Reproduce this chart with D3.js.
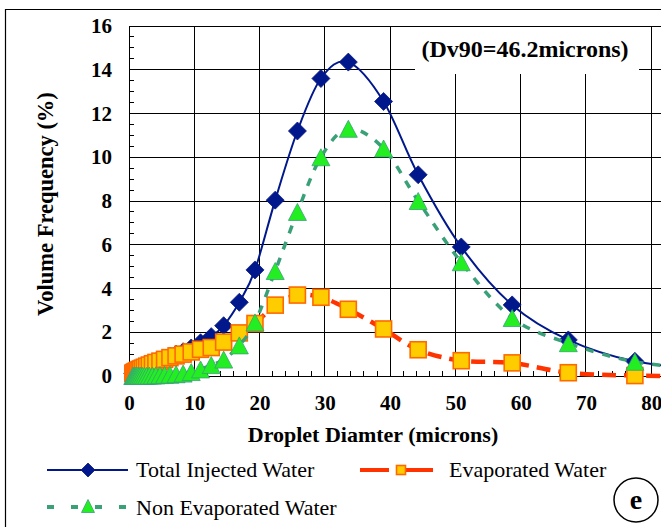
<!DOCTYPE html>
<html>
<head>
<meta charset="utf-8">
<script src="https://cdn.jsdelivr.net/npm/d3@7/dist/d3.min.js"></script>
<style>
  html, body { margin: 0; padding: 0; background: #fff; }
  svg { display: block; }
  text { font-family: "Liberation Serif", "Times New Roman", serif; }
</style>
</head>
<body>
<svg id="chart" width="661" height="527"></svg>
<script>
// Droplet size classes (microns)
const diameters = [0.58, 0.67, 0.77, 0.89, 1.02, 1.17, 1.35, 1.55, 1.78, 2.05, 2.36, 2.71,
  3.12, 3.59, 4.12, 4.74, 5.45, 6.27, 7.21, 8.29, 9.53, 10.96, 12.6, 14.5, 16.9, 19.3,
  22.4, 25.8, 29.4, 33.6, 39.0, 44.3, 50.9, 58.7, 67.3, 77.5, 89.1];

// Volume frequency (%) per size class
const totalInjected = [0.12, 0.14, 0.16, 0.18, 0.21, 0.24, 0.27, 0.30, 0.33, 0.37, 0.41, 0.46,
  0.52, 0.58, 0.65, 0.72, 0.81, 0.90, 1.00, 1.11, 1.28, 1.52, 1.80, 2.30, 3.37, 4.85,
  8.04, 11.2, 13.6, 14.35, 12.55, 9.2, 5.9, 3.25, 1.65, 0.67, 0.30];

const evaporated = [0.12, 0.14, 0.16, 0.18, 0.20, 0.23, 0.26, 0.29, 0.32, 0.36, 0.40, 0.45,
  0.50, 0.56, 0.62, 0.68, 0.76, 0.84, 0.92, 1.00, 1.10, 1.22, 1.30, 1.55, 1.97, 2.40,
  3.24, 3.70, 3.60, 3.05, 2.15, 1.20, 0.70, 0.60, 0.15, 0.02, 0.00];

const nonEvaporated = [0.00, 0.00, 0.00, 0.00, 0.01, 0.01, 0.01, 0.01, 0.01, 0.01, 0.01, 0.01,
  0.02, 0.02, 0.03, 0.04, 0.05, 0.06, 0.08, 0.11, 0.18, 0.30, 0.50, 0.75, 1.40, 2.45,
  4.80, 7.50, 10.0, 11.3, 10.4, 8.0, 5.2, 2.65, 1.50, 0.65, 0.30];

const xTicks = [0, 10, 20, 30, 40, 50, 60, 70, 80];
const yTicks = [0, 2, 4, 6, 8, 10, 12, 14, 16];

const svg = d3.select("#chart");

const x = d3.scaleLinear().domain([0, 81.5]).range([129, 661]);
const y = d3.scaleLinear().domain([0, 16]).range([376, 26]);

// outer frame
svg.append("path")
  .attr("d", "M5.5,540 V9.5 H670")
  .attr("fill", "none").attr("stroke", "#000").attr("stroke-width", 1.2);

// grid
const grid = svg.append("g").attr("stroke", "#000").attr("stroke-width", 1).attr("shape-rendering", "crispEdges");
yTicks.forEach(v => {
  grid.append("line").attr("x1", x(0)).attr("x2", 661).attr("y1", y(v)).attr("y2", y(v));
});
xTicks.forEach(v => {
  grid.append("line").attr("x1", x(v)).attr("x2", x(v)).attr("y1", y(0)).attr("y2", y(16));
});

// minor ticks (inside)
const minor = svg.append("g").attr("stroke", "#000").attr("stroke-width", 1).attr("shape-rendering", "crispEdges");
d3.range(0, 16.01, 0.5).forEach(v => {
  minor.append("line").attr("x1", x(0)).attr("x2", x(0) + 5).attr("y1", y(v)).attr("y2", y(v));
});
d3.range(0, 81.5, 2).forEach(v => {
  minor.append("line").attr("x1", x(v)).attr("x2", x(v)).attr("y1", y(0)).attr("y2", y(0) - 5);
});

// axes tick labels
const yAxis = d3.axisLeft(y).tickValues(yTicks).tickSize(0).tickPadding(17);
svg.append("g").attr("transform", `translate(${x(0)},0)`).call(yAxis)
  .call(g => g.select(".domain").remove())
  .selectAll("text")
  .attr("font-family", "Liberation Serif").attr("font-weight", "bold").attr("font-size", 21).attr("fill", "#000");

const xAxis = d3.axisBottom(x).tickValues(xTicks).tickSize(0).tickPadding(19);
svg.append("g").attr("transform", `translate(0,${y(0)})`).call(xAxis)
  .call(g => g.select(".domain").remove())
  .selectAll("text")
  .attr("font-family", "Liberation Serif").attr("font-weight", "bold").attr("font-size", 21).attr("fill", "#000");

// axis titles
svg.append("text").attr("x", 373).attr("y", 442).attr("text-anchor", "middle")
  .attr("font-weight", "bold").attr("font-size", 22).text("Droplet Diamter (microns)");
svg.append("text").attr("transform", "translate(53,204) rotate(-90)").attr("text-anchor", "middle")
  .attr("font-weight", "bold").attr("font-size", 22.5).text("Volume Frequency (%)");

// annotation box
svg.append("rect").attr("x", 415).attr("y", 27).attr("width", 224).attr("height", 47).attr("fill", "#fff");
svg.append("text").attr("x", 525).attr("y", 57).attr("text-anchor", "middle")
  .attr("font-weight", "bold").attr("font-size", 24).text("(Dv90=46.2microns)");

const curve = d3.curveCardinal.tension(0);
const pts = vals => diameters.map((d, i) => [x(d), y(vals[i])]);
const lineGen = d3.line().curve(curve);

const diamond = (g, cx, cy, r) => g.append("path")
  .attr("d", `M${cx},${cy - r} L${cx + r},${cy} L${cx},${cy + r} L${cx - r},${cy} Z`)
  .attr("fill", "#00188c").attr("stroke", "#0a1a80").attr("stroke-width", 0.8);
const square = (g, cx, cy, s) => g.append("rect")
  .attr("x", cx - s / 2).attr("y", cy - s / 2).attr("width", s).attr("height", s)
  .attr("fill", "#ffcc00").attr("stroke", "#ff6a00").attr("stroke-width", 1.6);
const triangle = (g, cx, cy, w, h) => g.append("path")
  .attr("d", `M${cx},${cy - h / 2} L${cx + w / 2},${cy + h / 2} L${cx - w / 2},${cy + h / 2} Z`)
  .attr("fill", "#22ee22").attr("stroke", "#3aa078").attr("stroke-width", 0.8);

// Total injected water
const gT = svg.append("g");
gT.append("path").attr("d", lineGen(pts(totalInjected)))
  .attr("fill", "none").attr("stroke", "#00188c").attr("stroke-width", 2);
pts(totalInjected).forEach(p => diamond(gT, p[0], p[1], 9));

// Evaporated water
const gE = svg.append("g");
gE.append("path").attr("d", lineGen(pts(evaporated)))
  .attr("fill", "none").attr("stroke", "#ff3300").attr("stroke-width", 4.5)
  .attr("stroke-dasharray", "14,8");
pts(evaporated).forEach(p => square(gE, p[0], p[1], 16));

// Non evaporated water
const gN = svg.append("g");
gN.append("path").attr("d", lineGen(pts(nonEvaporated)))
  .attr("fill", "none").attr("stroke", "#3aa078").attr("stroke-width", 3.5)
  .attr("stroke-dasharray", "8,9");
pts(nonEvaporated).forEach(p => triangle(gN, p[0], p[1], 18, 17));

// legend
const lg = svg.append("g");
lg.append("line").attr("x1", 47).attr("x2", 128).attr("y1", 470).attr("y2", 470)
  .attr("stroke", "#00188c").attr("stroke-width", 2);
diamond(lg, 88, 470, 7);
lg.append("text").attr("x", 136).attr("y", 477).attr("font-size", 22).text("Total Injected Water");

lg.append("line").attr("x1", 360).attr("x2", 389).attr("y1", 470).attr("y2", 470)
  .attr("stroke", "#ff3300").attr("stroke-width", 4);
lg.append("line").attr("x1", 406).attr("x2", 433).attr("y1", 470).attr("y2", 470)
  .attr("stroke", "#ff3300").attr("stroke-width", 4);
square(lg, 401, 470, 9);
lg.append("text").attr("x", 449).attr("y", 477).attr("font-size", 22).text("Evaporated Water");

lg.append("line").attr("x1", 47).attr("x2", 128).attr("y1", 507).attr("y2", 507)
  .attr("stroke", "#3aa078").attr("stroke-width", 4).attr("stroke-dasharray", "7,17");
triangle(lg, 88, 506, 13, 13);
lg.append("text").attr("x", 136).attr("y", 515).attr("font-size", 22).text("Non Evaporated Water");

// panel label
svg.append("ellipse").attr("cx", 636).attr("cy", 500).attr("rx", 22).attr("ry", 22)
  .attr("fill", "none").attr("stroke", "#000").attr("stroke-width", 1.5);
svg.append("text").attr("x", 636).attr("y", 509).attr("text-anchor", "middle")
  .attr("font-weight", "bold").attr("font-size", 28).text("e");
</script>
</body>
</html>
